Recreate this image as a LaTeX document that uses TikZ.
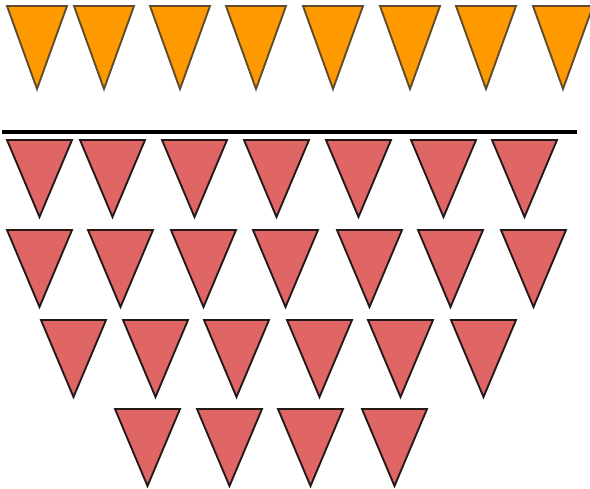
\documentclass[tikz,border=0pt]{standalone}
\usepackage{tikz}
\definecolor{flagorange}{RGB}{255,153,0}
\definecolor{flagred}{RGB}{224,102,102}
\definecolor{orangeedge}{RGB}{95,75,45}
\definecolor{rededge}{RGB}{35,25,25}

\begin{document}
\begin{tikzpicture}[x=0.03cm, y=-0.03cm,
  orangeflag/.style={fill=flagorange, draw=orangeedge, line width=1.6pt, line join=miter},
  redflag/.style={fill=flagred, draw=rededge, line width=1.6pt, line join=miter}]
\useasboundingbox (0,0) rectangle (590,489);
% Orange flags on top
\foreach \x in {7, 74, 150, 226, 303, 380, 456, 533} {
  \draw[orangeflag] (\x,6) -- ++(60,0) -- ++(-30,83) -- cycle;
}
% Dividing line
\draw[black, line width=2.6pt] (2,132) -- (577,132);
% Red flags, first row
\foreach \x in {7, 80, 162, 244, 326, 411, 492} {
  \draw[redflag] (\x,140) -- ++(65,0) -- ++(-32.5,77) -- cycle;
}
% Second row
\foreach \x in {7, 88, 171, 253, 337, 418, 501} {
  \draw[redflag] (\x,230) -- ++(65,0) -- ++(-32.5,77) -- cycle;
}
% Third row
\foreach \x in {41, 123, 204, 287, 368, 451} {
  \draw[redflag] (\x,320) -- ++(65,0) -- ++(-32.5,77) -- cycle;
}
% Fourth row
\foreach \x in {115, 197, 278, 362} {
  \draw[redflag] (\x,409) -- ++(65,0) -- ++(-32.5,77) -- cycle;
}
\end{tikzpicture}
\end{document}
